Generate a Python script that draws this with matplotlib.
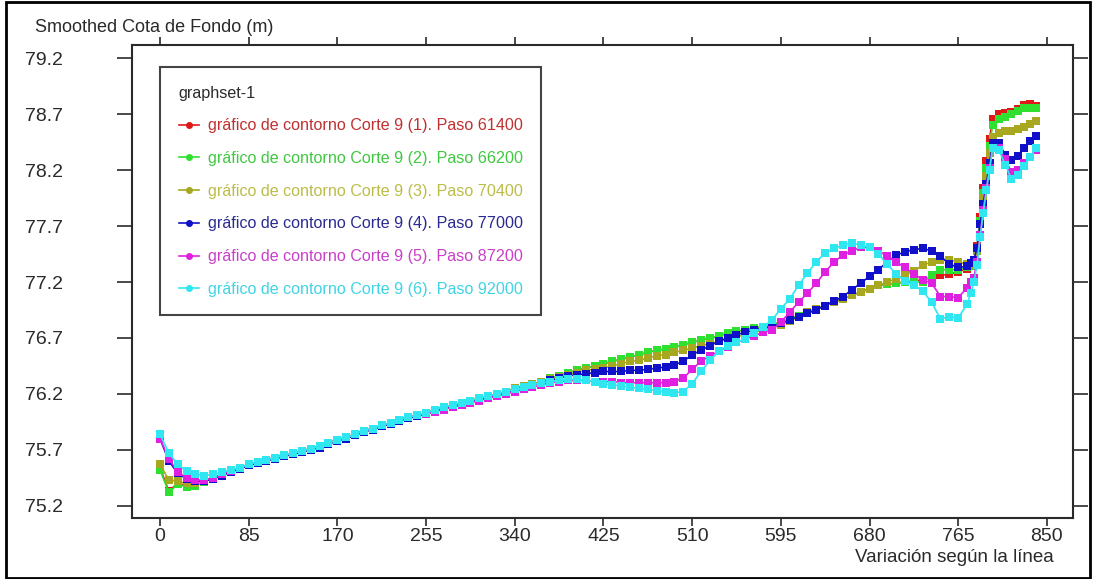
import numpy as np
import matplotlib
matplotlib.use("Agg")
import matplotlib.pyplot as plt
from matplotlib.lines import Line2D
from matplotlib.patches import Rectangle

plt.rcParams['font.family'] = ['Liberation Sans', 'DejaVu Sans']

# Stations along the cross-section line (m): regular 8.5 m spacing, finer near the bank
station = np.concatenate([
    np.arange(0, 774, 8.5),
    [777, 780, 783, 786, 789, 792, 795, 798, 804, 810, 816, 822, 828, 834, 840],
])

corte_1 = [
    75.54, 75.33, 75.40, 75.38, 75.39, 75.42, 75.45, 75.48, 75.51, 75.54,
    75.57, 75.59, 75.61, 75.63, 75.65, 75.67, 75.69, 75.71, 75.73, 75.76,
    75.79, 75.81, 75.84, 75.87, 75.89, 75.92, 75.94, 75.97, 75.99, 76.01,
    76.03, 76.06, 76.08, 76.10, 76.12, 76.14, 76.16, 76.18, 76.20, 76.22,
    76.25, 76.27, 76.29, 76.31, 76.34, 76.36, 76.39, 76.41, 76.43, 76.45,
    76.47, 76.49, 76.51, 76.53, 76.55, 76.57, 76.59, 76.60, 76.62, 76.64,
    76.66, 76.68, 76.70, 76.72, 76.74, 76.76, 76.77, 76.79, 76.80, 76.82,
    76.84, 76.87, 76.90, 76.93, 76.96, 76.99, 77.02, 77.05, 77.08, 77.11,
    77.14, 77.17, 77.18, 77.19, 77.20, 77.21, 77.22, 77.24, 77.26, 77.27,
    77.29, 77.32,
    77.34, 77.36, 77.52, 77.78, 78.04, 78.28, 78.48, 78.66, 78.70, 78.71,
    78.72, 78.75, 78.78, 78.79, 78.77,
]
corte_2 = [
    75.52, 75.32, 75.39, 75.37, 75.38, 75.41, 75.45, 75.48, 75.51, 75.54,
    75.57, 75.59, 75.61, 75.63, 75.65, 75.67, 75.69, 75.71, 75.73, 75.76,
    75.79, 75.81, 75.84, 75.87, 75.89, 75.92, 75.94, 75.97, 75.99, 76.01,
    76.03, 76.06, 76.08, 76.10, 76.12, 76.14, 76.16, 76.18, 76.20, 76.22,
    76.25, 76.27, 76.29, 76.31, 76.34, 76.36, 76.39, 76.41, 76.43, 76.45,
    76.47, 76.49, 76.51, 76.53, 76.55, 76.57, 76.59, 76.60, 76.62, 76.64,
    76.66, 76.68, 76.70, 76.72, 76.74, 76.76, 76.77, 76.79, 76.80, 76.82,
    76.84, 76.87, 76.90, 76.93, 76.96, 76.99, 77.02, 77.05, 77.08, 77.11,
    77.14, 77.17, 77.18, 77.19, 77.20, 77.20, 77.20, 77.26, 77.31, 77.31,
    77.31, 77.33,
    77.34, 77.36, 77.50, 77.75, 78.00, 78.22, 78.42, 78.60, 78.66, 78.68,
    78.70, 78.73, 78.76, 78.76, 78.76,
]
corte_3 = [
    75.57, 75.43, 75.42, 75.40, 75.40, 75.42, 75.45, 75.48, 75.51, 75.54,
    75.57, 75.59, 75.61, 75.63, 75.65, 75.67, 75.69, 75.71, 75.73, 75.76,
    75.79, 75.81, 75.84, 75.87, 75.89, 75.92, 75.94, 75.97, 75.99, 76.01,
    76.03, 76.06, 76.08, 76.10, 76.12, 76.14, 76.16, 76.18, 76.20, 76.22,
    76.25, 76.27, 76.29, 76.31, 76.33, 76.35, 76.37, 76.39, 76.41, 76.42,
    76.43, 76.45, 76.47, 76.49, 76.50, 76.52, 76.54, 76.55, 76.57, 76.59,
    76.61, 76.63, 76.65, 76.67, 76.69, 76.71, 76.73, 76.75, 76.77, 76.79,
    76.82, 76.85, 76.89, 76.93, 76.96, 76.99, 77.02, 77.05, 77.08, 77.11,
    77.14, 77.17, 77.20, 77.23, 77.26, 77.30, 77.35, 77.38, 77.40, 77.40,
    77.38, 77.36,
    77.35, 77.35, 77.48, 77.72, 77.95, 78.15, 78.35, 78.50, 78.53, 78.55,
    78.55, 78.57, 78.59, 78.61, 78.64,
]
corte_4 = [
    75.80, 75.60, 75.49, 75.44, 75.42, 75.42, 75.44, 75.47, 75.50, 75.53,
    75.56, 75.58, 75.60, 75.62, 75.64, 75.66, 75.68, 75.70, 75.72, 75.75,
    75.78, 75.80, 75.83, 75.86, 75.88, 75.91, 75.93, 75.96, 75.98, 76.00,
    76.02, 76.05, 76.07, 76.09, 76.11, 76.13, 76.15, 76.17, 76.19, 76.21,
    76.24, 76.26, 76.28, 76.30, 76.32, 76.34, 76.36, 76.37, 76.38, 76.39,
    76.40, 76.40, 76.40, 76.41, 76.41, 76.42, 76.43, 76.44, 76.46, 76.49,
    76.55, 76.59, 76.63, 76.67, 76.70, 76.73, 76.75, 76.77, 76.79, 76.80,
    76.83, 76.86, 76.89, 76.92, 76.95, 76.99, 77.03, 77.07, 77.13, 77.19,
    77.25, 77.31, 77.38, 77.44, 77.47, 77.49, 77.50, 77.48, 77.43, 77.36,
    77.33, 77.34,
    77.37, 77.40, 77.50, 77.72, 77.90, 78.08, 78.26, 78.44, 78.44, 78.34,
    78.29, 78.33, 78.40, 78.46, 78.51,
]
corte_5 = [
    75.80, 75.62, 75.50, 75.45, 75.43, 75.43, 75.45, 75.48, 75.51, 75.54,
    75.57, 75.59, 75.61, 75.63, 75.65, 75.67, 75.69, 75.71, 75.73, 75.76,
    75.79, 75.81, 75.84, 75.87, 75.89, 75.92, 75.94, 75.97, 75.99, 76.01,
    76.02, 76.04, 76.06, 76.08, 76.10, 76.12, 76.14, 76.16, 76.18, 76.20,
    76.22, 76.24, 76.26, 76.28, 76.30, 76.31, 76.32, 76.32, 76.32, 76.31,
    76.31, 76.31, 76.30, 76.30, 76.30, 76.30, 76.30, 76.30, 76.31, 76.34,
    76.42, 76.49, 76.54, 76.58, 76.62, 76.66, 76.69, 76.72, 76.75, 76.77,
    76.84, 76.93, 77.02, 77.10, 77.19, 77.29, 77.38, 77.44, 77.48, 77.51,
    77.51, 77.48, 77.43, 77.38, 77.33, 77.27, 77.22, 77.19, 77.07, 77.07,
    77.06, 77.15,
    77.20, 77.24, 77.38, 77.62, 77.84, 78.04, 78.22, 78.40, 78.40, 78.30,
    78.18, 78.20, 78.26, 78.32, 78.38,
]
corte_6 = [
    75.84, 75.67, 75.57, 75.51, 75.48, 75.47, 75.48, 75.50, 75.52, 75.54,
    75.57, 75.59, 75.61, 75.63, 75.65, 75.67, 75.69, 75.71, 75.73, 75.76,
    75.79, 75.81, 75.84, 75.87, 75.89, 75.92, 75.94, 75.97, 75.99, 76.01,
    76.03, 76.06, 76.08, 76.10, 76.12, 76.14, 76.16, 76.18, 76.20, 76.22,
    76.24, 76.26, 76.28, 76.30, 76.31, 76.32, 76.33, 76.33, 76.32, 76.31,
    76.29, 76.28, 76.27, 76.26, 76.25, 76.24, 76.23, 76.22, 76.21, 76.22,
    76.29, 76.40, 76.50, 76.58, 76.63, 76.66, 76.69, 76.74, 76.80, 76.86,
    76.96, 77.05, 77.17, 77.28, 77.38, 77.46, 77.50, 77.53, 77.55, 77.53,
    77.51, 77.45, 77.36, 77.27, 77.21, 77.17, 77.12, 77.02, 76.87, 76.89,
    76.88, 77.00,
    77.10, 77.20, 77.35, 77.60, 77.82, 78.02, 78.20, 78.40, 78.38, 78.25,
    78.12, 78.16, 78.24, 78.32, 78.40,
]

series = [corte_1, corte_2, corte_3, corte_4, corte_5, corte_6]
series_labels = [
    "gráfico de contorno Corte 9 (1). Paso 61400",
    "gráfico de contorno Corte 9 (2). Paso 66200",
    "gráfico de contorno Corte 9 (3). Paso 70400",
    "gráfico de contorno Corte 9 (4). Paso 77000",
    "gráfico de contorno Corte 9 (5). Paso 87200",
    "gráfico de contorno Corte 9 (6). Paso 92000",
]
line_colors = ["#e01818", "#30e030", "#a8a820", "#1010c8", "#e020e0", "#30e6f0"]
label_colors = ["#c03030", "#40c840", "#bcbc48", "#2a2a90", "#c840c8", "#40d4e4"]

x_ticks = [0, 85, 170, 255, 340, 425, 510, 595, 680, 765, 850]
y_ticks = [75.2, 75.7, 76.2, 76.7, 77.2, 77.7, 78.2, 78.7, 79.2]

W, H = 1094, 579
fig = plt.figure(figsize=(W / 100, H / 100), dpi=100)
fig.patch.set_facecolor("white")

ax_l, ax_r, ax_t, ax_b = 132, 1073, 44.7, 518
ax = fig.add_axes([ax_l / W, (H - ax_b) / H, (ax_r - ax_l) / W, (ax_b - ax_t) / H])

for ys, c in zip(series, line_colors):
    ax.plot(station, ys, color=c, lw=1.2, marker="s", ms=5.5, mfc=c, mec=c, mew=0)

ax.set_xlim(-26.8, 875)
ax.set_ylim(75.09, 79.322)

ax.set_xticks(x_ticks)
ax.set_xticklabels([str(v) for v in x_ticks])
ax.set_yticks(y_ticks)
ax.set_yticklabels([f"{v:.1f}" for v in y_ticks])

ink = "#2a2a2a"
for sp in ax.spines.values():
    sp.set_color(ink)
    sp.set_linewidth(1.5)

ax.tick_params(axis="x", which="major", direction="out", length=6, width=1.2,
               top=True, bottom=True, labelsize=14, color=ink, labelcolor=ink, pad=1)
ax.tick_params(axis="y", which="major", direction="out", length=11, width=1.2,
               left=True, right=True, labelsize=14, color=ink, labelcolor=ink, pad=66)
for lab in ax.get_yticklabels():
    lab.set_horizontalalignment("left")

fig.text(35 / W, 1 - 28 / H, "Smoothed Cota de Fondo (m)", ha="left", va="center",
         fontsize=13, color=ink)
fig.text(954 / W, 1 - 557 / H, "Variación según la línea", ha="center", va="center",
         fontsize=13.5, color=ink)

handles = [Line2D([], [], color=c, lw=1.2, marker="o", ms=4, mfc=c, mec=c)
           for c in line_colors]
leg = ax.legend(handles, series_labels, title="graphset-1", loc="upper left",
                bbox_to_anchor=((160 - ax_l) / (ax_r - ax_l), 1 - (67 - ax_t) / (ax_b - ax_t)),
                borderaxespad=0, frameon=True, fancybox=False, framealpha=1,
                edgecolor="#444444", fontsize=11.6, title_fontsize=11.6,
                handlelength=1.3, handletextpad=0.5, labelspacing=1.1,
                borderpad=1.15, alignment="left")
leg.get_frame().set_linewidth(1.5)
leg.get_title().set_color(ink)
for t, c in zip(leg.get_texts(), label_colors):
    t.set_color(c)

fig.patches.append(Rectangle((6 / W, 1 / H), (1090 - 6) / W, (577 - 1) / H,
                             transform=fig.transFigure, fill=False,
                             edgecolor="black", linewidth=2))

fig.savefig("out.png", dpi=100)
